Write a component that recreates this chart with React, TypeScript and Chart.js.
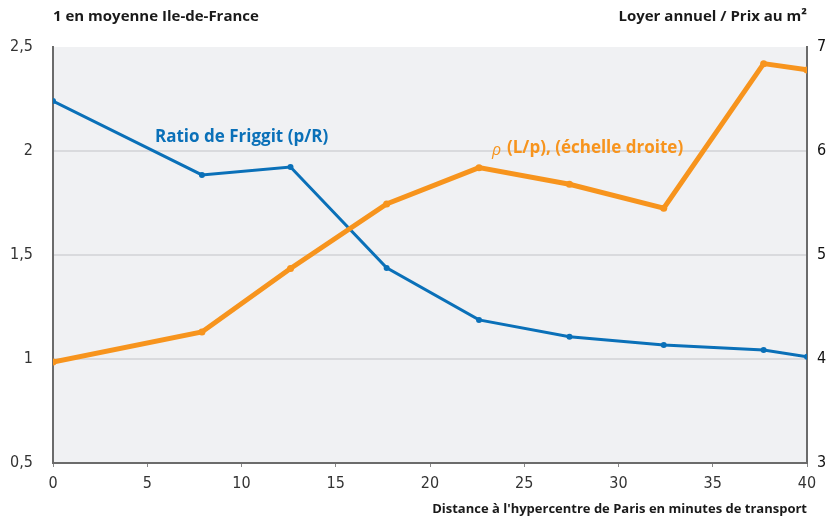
import React, { useEffect, useRef } from "react";
import { Chart, registerables } from "chart.js";

Chart.register(...registerables);

const minutes = [0, 7.9, 12.6, 17.7, 22.6, 27.4, 32.4, 37.7, 40];
const ratioFriggit = [2.24, 1.885, 1.923, 1.438, 1.188, 1.107, 1.067, 1.043, 1.011];
const rhoLp = [3.97, 4.26, 4.87, 5.49, 5.84, 5.68, 5.45, 6.84, 6.78];

const leftTitle = "1 en moyenne Ile-de-France";
const rightTitle = "Loyer annuel / Prix au m²";
const xTitle = "Distance à l'hypercentre de Paris en minutes de transport";
const blueLabel = "Ratio de Friggit (p/R)";
const orangeLabel = "(L/p), (échelle droite)";

const BLUE = "#0a70b8";
const ORANGE = "#f7941d";
const TICK_FONT = "'DejaVu Sans Condensed', 'Liberation Sans Narrow', 'Open Sans', sans-serif";
const TITLE_FONT = "'Open Sans', 'Noto Sans', sans-serif";

const textPlugin = {
  id: "texts",
  beforeDraw(chart: any) {
    const { ctx, chartArea } = chart;
    ctx.save();
    ctx.fillStyle = "#f0f1f3";
    ctx.fillRect(chartArea.left, chartArea.top, chartArea.right - chartArea.left, chartArea.bottom - chartArea.top);
    ctx.restore();
  },
  afterDraw(chart: any) {
    const { ctx, chartArea } = chart;
    ctx.save();
    ctx.fillStyle = "#1a1a1a";
    ctx.textBaseline = "middle";
    ctx.font = `bold 15px ${TITLE_FONT}`;
    ctx.textAlign = "left";
    ctx.fillText(leftTitle, chartArea.left, 17);
    ctx.textAlign = "right";
    ctx.fillText(rightTitle, chartArea.right, 17);
    ctx.font = `bold 13px ${TITLE_FONT}`;
    ctx.fillText(xTitle, chartArea.right, 509);

    ctx.font = `bold 17px ${TITLE_FONT}`;
    ctx.fillStyle = BLUE;
    ctx.textAlign = "left";
    ctx.fillText(blueLabel, 155, 137);

    ctx.fillStyle = ORANGE;
    ctx.font = `italic 16px ${TITLE_FONT}`;
    ctx.fillText("ρ", 492, 150);
    ctx.font = `bold 17px ${TITLE_FONT}`;
    ctx.fillText(orangeLabel, 507, 148);
    ctx.restore();
  },
};

export default function App() {
  const ref = useRef<HTMLCanvasElement>(null);
  useEffect(() => {
    document.body.style.margin = "0";
    const chart = new Chart(ref.current as HTMLCanvasElement, {
      type: "line",
      data: {
        datasets: [
          {
            label: "rho",
            data: minutes.map((x, i) => ({ x, y: rhoLp[i] })),
            yAxisID: "y1",
            borderColor: ORANGE,
            backgroundColor: ORANGE,
            borderWidth: 5,
            pointRadius: 3.5,
            pointBorderWidth: 0,
            tension: 0,
            order: 0,
          },
          {
            label: "ratio",
            data: minutes.map((x, i) => ({ x, y: ratioFriggit[i] })),
            yAxisID: "y",
            borderColor: BLUE,
            backgroundColor: BLUE,
            borderWidth: 3,
            pointRadius: 3,
            pointBorderWidth: 0,
            tension: 0,
            order: 1,
          },
        ],
      },
      options: {
        animation: false,
        responsive: false,
        maintainAspectRatio: false,
        layout: { padding: { top: 47, left: 0, right: 0, bottom: 0 } },
        plugins: { legend: { display: false }, tooltip: { enabled: false } },
        scales: {
          x: {
            type: "linear",
            min: 0,
            max: 40,
            ticks: { stepSize: 5, color: "#333", font: { family: TICK_FONT, size: 16 }, padding: 7, maxRotation: 0 },
            grid: { drawOnChartArea: false, drawTicks: true, tickLength: 4, color: "#888", lineWidth: 1 },
            border: { display: true, color: "#6b6b6b", width: 2 },
            afterFit: (s: any) => { s.height = 54; },
          },
          y: {
            position: "left",
            min: 0.5,
            max: 2.5,
            ticks: {
              stepSize: 0.5,
              color: "#333",
              font: { family: TICK_FONT, size: 16 },
              padding: 20,
              callback: (v: any) => String(v).replace(".", ","),
            },
            grid: {
              drawTicks: false,
              lineWidth: 2,
              color: (c: any) => (c.tick && (c.tick.value === 0.5 || c.tick.value === 2.5) ? "rgba(0,0,0,0)" : "#d9dadd"),
            },
            border: { display: true, color: "#6b6b6b", width: 2 },
            afterFit: (s: any) => { s.width = 53; },
          },
          y1: {
            position: "right",
            min: 3,
            max: 7,
            ticks: { stepSize: 1, color: "#111", font: { family: TICK_FONT, size: 16 }, padding: 10 },
            grid: { drawOnChartArea: false, drawTicks: false },
            border: { display: true, color: "#6b6b6b", width: 2 },
            afterFit: (s: any) => { s.width = 21; },
          },
        },
      },
      plugins: [textPlugin],
    } as any);
    return () => chart.destroy();
  }, []);
  return (
    <div style={{ width: 828, height: 517, background: "#fff" }}>
      <canvas ref={ref} width={828} height={517} style={{ display: "block" }} />
    </div>
  );
}
